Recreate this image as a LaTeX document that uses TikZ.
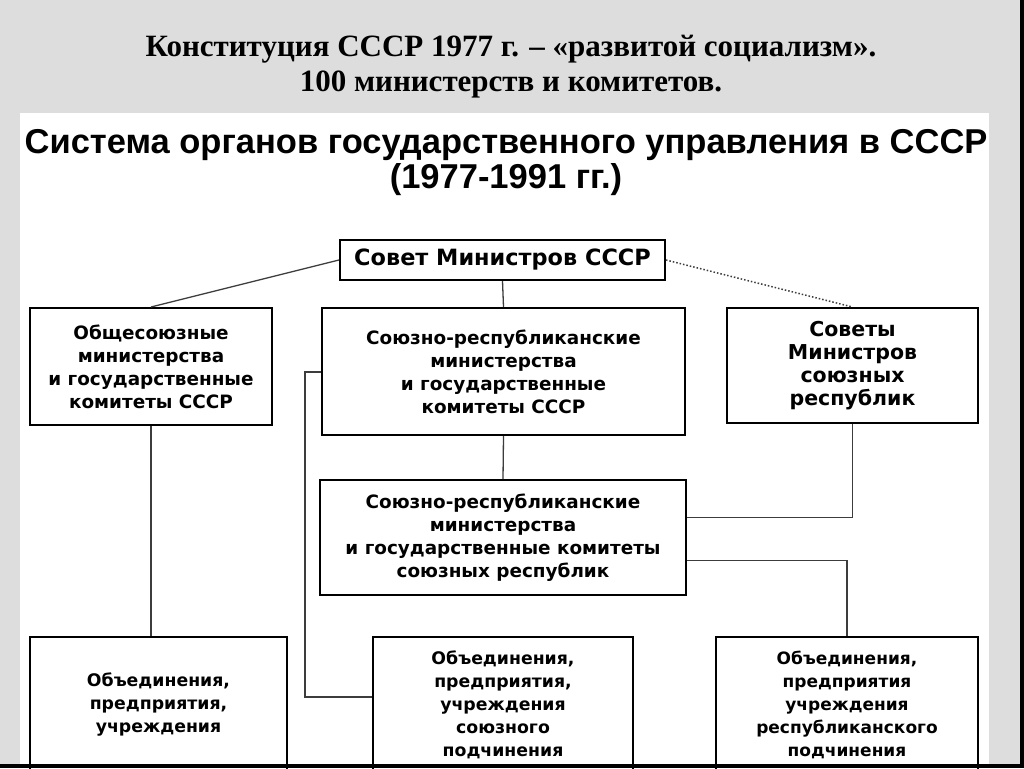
\documentclass[tikz,border=0pt]{standalone}
\usepackage{fontspec}
\usetikzlibrary{calc}
\newfontfamily\ttlfont{Liberation Serif}
\newfontfamily\sansbold{Liberation Sans Bold}
\newfontfamily\boxfont{DejaVu Sans Bold}
\definecolor{bggray}{RGB}{221,221,221}
\definecolor{linegray}{RGB}{60,60,60}
\tikzset{
  box/.style={draw=black, line width=2pt, align=center, inner sep=0pt,
    font=\boxfont\fontsize{18.4}{23}\selectfont},
  fs/.style={font=\boxfont\fontsize{#1}{23}\selectfont},
  conn/.style={draw=linegray, line width=1.3pt},
  dotconn/.style={draw=linegray, line width=1.5pt, dotted},
  toptitle/.style={font=\ttlfont\bfseries\fontsize{31}{35}\selectfont, align=center, inner sep=0pt},
  intitle/.style={font=\sansbold\fontsize{34.5}{35}\selectfont, align=center, inner sep=0pt}
}
\begin{document}
\begin{tikzpicture}[x=1pt,y=-1pt]
\useasboundingbox (0,0) rectangle (1024,768);
\clip (0,0) rectangle (1024,768);
\fill[bggray] (0,0) rectangle (1024,768);
\fill[white] (20,113) rectangle (989,768);
\fill[black] (1020,0) rectangle (1024,768);

\node[toptitle] (t1) at (511,67) {Конституция СССР 1977 г. – «развитой социализм».\\100 министерств и комитетов.};

\node[intitle] (t2) at (506,163) {Система органов государственного управления в СССР\\(1977-1991 гг.)};

\node[box, fs=22.4, minimum width=325, minimum height=40] (sov) at (502.5,260) {Совет Министров СССР};

\node[box, minimum width=242, minimum height=117] (b1) at (151,366.5)
  {Общесоюзные\\министерства\\и государственные\\комитеты СССР};
\node[box, minimum width=363, minimum height=127] (b2) at (503.5,371.5)
  {Союзно-республиканские\\министерства\\и государственные\\комитеты СССР};
\node[box, fs=20.5, minimum width=251, minimum height=115] (b3) at (852.5,365.5)
  {Советы\\Министров\\союзных\\республик};
\node[box, minimum width=366, minimum height=115] (b5) at (503,537.5)
  {Союзно-республиканские\\министерства\\и государственные комитеты\\союзных республик};

\node[box, fs=17.3, minimum width=257, minimum height=136] (u1) at (158.5,705)
  {Объединения,\\предприятия,\\учреждения};
\node[box, fs=17.3, minimum width=260, minimum height=136] (u2) at (503,705)
  {Объединения,\\предприятия,\\учреждения\\союзного\\подчинения};
\node[box, fs=17, minimum width=262, minimum height=136] (u3) at (847,705)
  {Объединения,\\предприятия\\учреждения\\республиканского\\подчинения};

\fill[black] (0,764) rectangle (1024,768);

\coordinate (k1) at (305,697);
\draw[conn] (sov.west) -- (b1.north);
\draw[dotconn] (sov.east) -- (b3.north);
\draw[conn] (sov.south) -- (b2.north);
\draw[conn] (b2.south) -- (b5.north);
\draw[conn] (b1.south) -- (b1.south |- u1.north);
\draw[conn] (b2.west |- 0,372) -| (k1) -- (k1 -| u2.west);
\draw[conn] (b3.south) |- ($(b5.east)+(0,-20)$);
\draw[conn] ($(b5.east)+(0,23)$) -| (u3.north);
\end{tikzpicture}
\end{document}
